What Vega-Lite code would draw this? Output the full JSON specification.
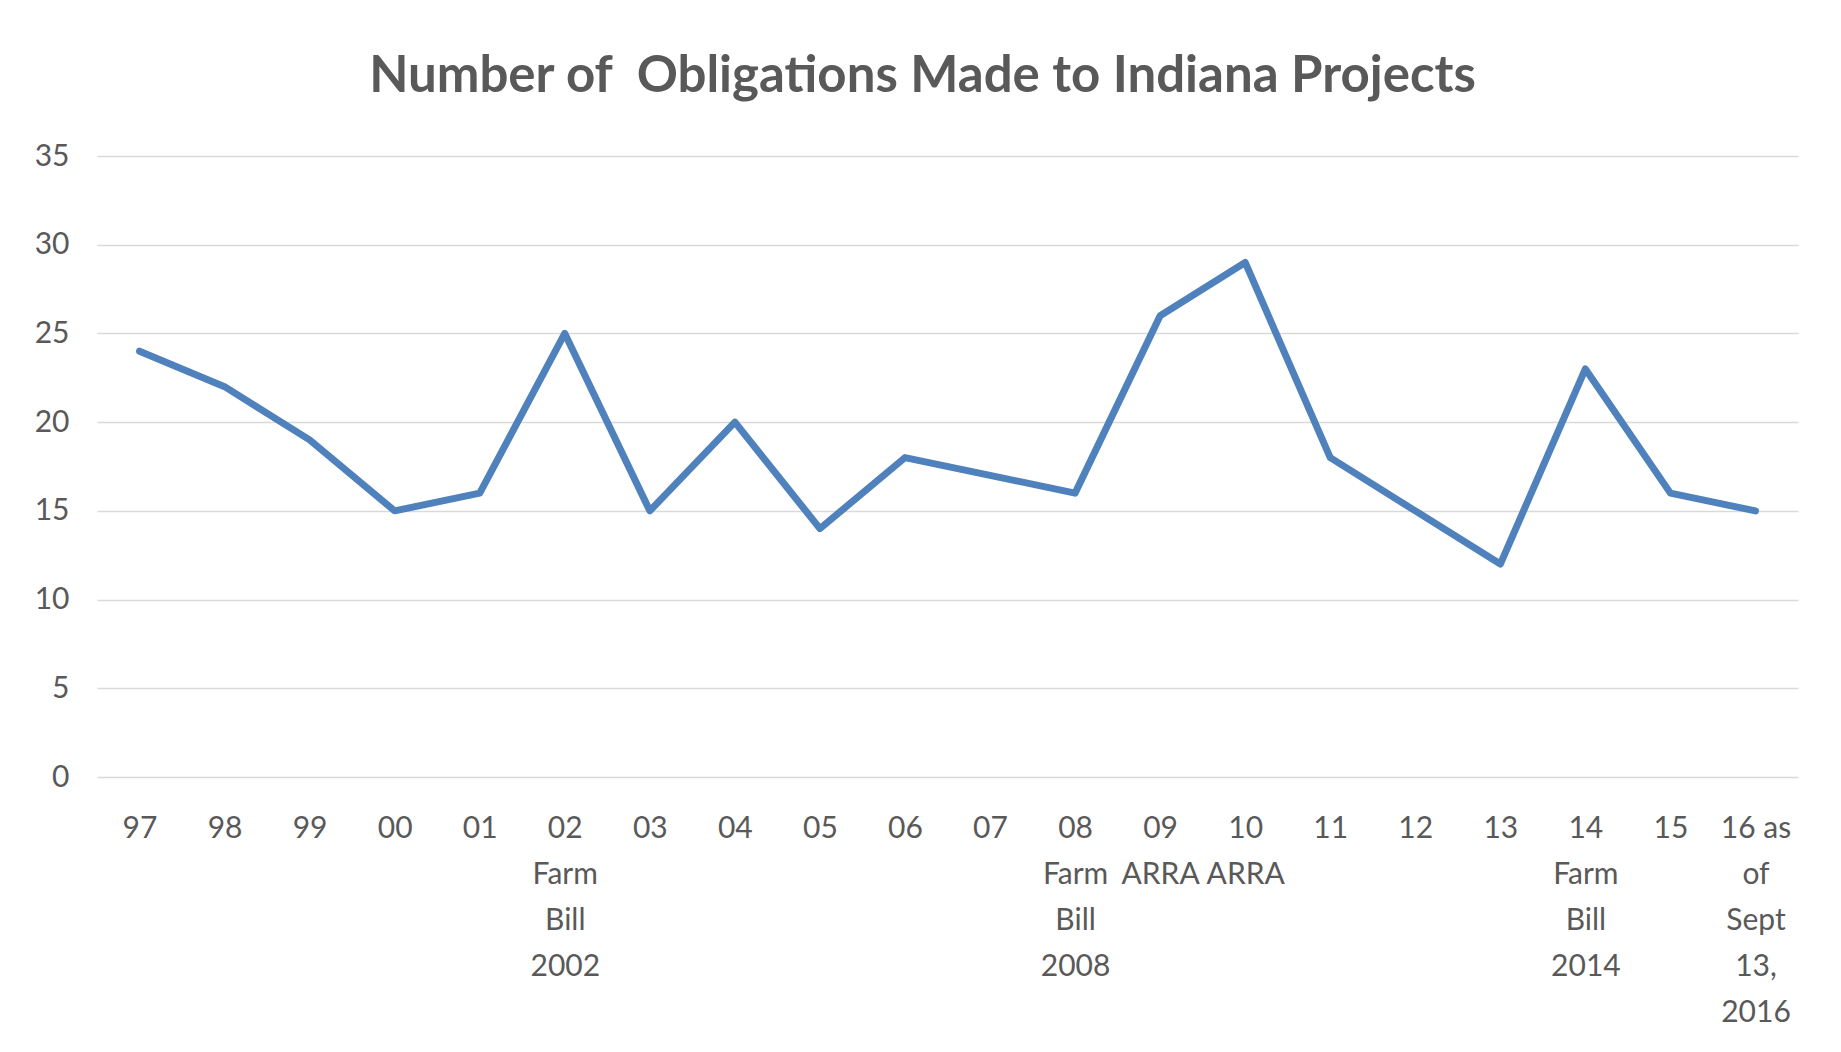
{
  "$schema": "https://vega.github.io/schema/vega-lite/v6.json",
  "width": 1701,
  "height": 621,
  "autosize": "none",
  "padding": {"left": 97, "top": 156, "right": 43, "bottom": 275},
  "background": "white",
  "title": {
    "text": "Number of \u00a0Obligations Made to Indiana Projects",
    "font": "Lato",
    "fontSize": 51,
    "fontWeight": "bold",
    "color": "#595959",
    "anchor": "middle",
    "frame": "group",
    "dx": -25,
    "baseline": "alphabetic",
    "offset": -2
  },
  "data": {
    "values": [
      {"year": "97", "value": 24},
      {"year": "98", "value": 22},
      {"year": "99", "value": 19},
      {"year": "00", "value": 15},
      {"year": "01", "value": 16},
      {"year": "02|Farm|Bill|2002", "value": 25},
      {"year": "03", "value": 15},
      {"year": "04", "value": 20},
      {"year": "05", "value": 14},
      {"year": "06", "value": 18},
      {"year": "07", "value": 17},
      {"year": "08|Farm|Bill|2008", "value": 16},
      {"year": "09|ARRA", "value": 26},
      {"year": "10|ARRA", "value": 29},
      {"year": "11", "value": 18},
      {"year": "12", "value": 15},
      {"year": "13", "value": 12},
      {"year": "14|Farm|Bill|2014", "value": 23},
      {"year": "15", "value": 16},
      {"year": "16 as|of|Sept|13,|2016", "value": 15}
    ]
  },
  "mark": {"type": "line", "color": "#4F81BD", "strokeWidth": 7, "strokeJoin": "round", "strokeCap": "round"},
  "encoding": {
    "x": {
      "field": "year",
      "type": "nominal",
      "sort": null,
      "scale": {"type": "point", "padding": 0.5},
      "axis": {
        "title": null,
        "labelAngle": 0,
        "labelExpr": "split(datum.value, '|')",
        "labelFont": "Lato",
        "labelFontSize": 30,
        "labelColor": "#595959",
        "labelLineHeight": 46,
        "labelPadding": 36,
        "labelBaseline": "top",
        "ticks": false,
        "domain": false,
        "grid": false,
        "labelOverlap": false,
        "labelBound": false
      }
    },
    "y": {
      "field": "value",
      "type": "quantitative",
      "scale": {"domain": [0, 35], "nice": false},
      "axis": {
        "title": null,
        "values": [0, 5, 10, 15, 20, 25, 30, 35],
        "labelFont": "Lato",
        "labelFontSize": 30,
        "labelColor": "#595959",
        "labelPadding": 28,
        "ticks": false,
        "domain": false,
        "grid": true,
        "gridColor": "#d9d9d9",
        "gridWidth": 1.5
      }
    }
  },
  "config": {"view": {"stroke": null}}
}
